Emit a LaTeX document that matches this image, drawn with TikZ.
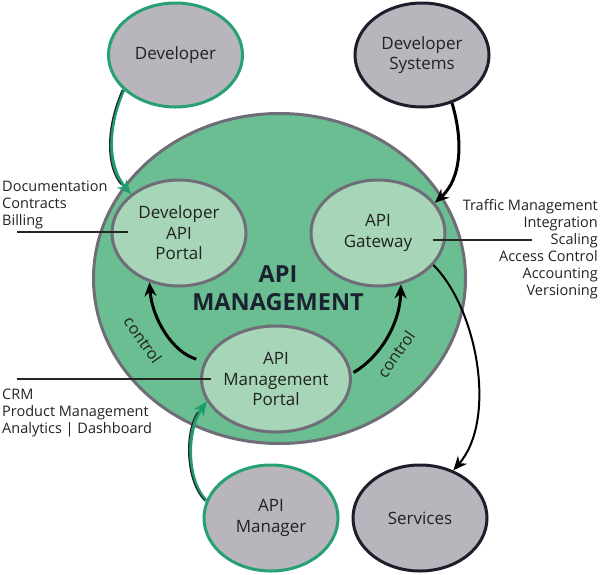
\documentclass[tikz,border=0pt]{standalone}
\usepackage{fontspec}
\setmainfont{Open Sans}
\usetikzlibrary{shapes.geometric,arrows.meta}
\definecolor{bigfill}{HTML}{6ABE92}
\definecolor{innerfill}{HTML}{A6D5B8}
\definecolor{rimgray}{HTML}{6F6E78}
\definecolor{nodegray}{HTML}{B8B5BD}
\definecolor{rimgreen}{HTML}{27A072}
\definecolor{rimnavy}{HTML}{1E1D2B}
\definecolor{txt}{HTML}{222222}
\definecolor{titletxt}{HTML}{1B2331}
\definecolor{arrowgreen}{HTML}{1F9D6C}
\begin{document}
\begin{tikzpicture}[x=1pt,y=-1pt,
  ell/.style={ellipse, inner sep=0pt, text=txt, align=center, font=\fontsize{17}{20.5}\selectfont},
  innerell/.style={ell, fill=innerfill, draw=rimgray, line width=3pt, minimum width=134pt, minimum height=106pt},
  greenell/.style={ell, fill=nodegray, draw=rimgreen, line width=3pt, minimum width=134pt, minimum height=104pt},
  navyell/.style={ell, fill=nodegray, draw=rimnavy, line width=3pt, minimum width=134pt, minimum height=104pt},
  lbl/.style={font=\fontsize{14.5}{17}\selectfont, text=txt, inner sep=0pt},
  ctl/.style={font=\fontsize{16}{18}\selectfont, text=txt, inner sep=0pt},
  blackarrow/.style={-{Stealth[length=14pt,width=12pt]}, black},
  greenarrow/.style={-{Stealth[length=14pt,width=12pt]}, arrowgreen, line width=3.2pt},
  darkedge/.style={black!85, line width=1.2pt, shorten >=13pt},
  leader/.style={black!85, line width=1.2pt}
]
\useasboundingbox (0,0) rectangle (600,574);

% main ellipse
\node[ellipse, inner sep=0pt, minimum width=372pt, minimum height=330pt, fill=bigfill, draw=rimgray, line width=3pt] (big) at (279.5,278.5) {};
\node[font=\fontsize{23.5}{28}\selectfont\bfseries, text=titletxt, align=center, inner sep=0pt] (title) at (278,288) {API\\MANAGEMENT};

% inner ellipses
\node[innerell] (dap) at (179,233) {Developer\\API\\Portal};
\node[innerell] (gw) at (378,233) {API\\Gateway};
\node[innerell, minimum width=132pt] (amp) at (276,379) {API\\Management\\Portal};

% outer ellipses
\node[greenell] (dev) at (175.5,55) {Developer};
\node[navyell] (ds) at (422,55) {Developer\\Systems};
\node[greenell, minimum height=106pt] (am) at (271,518) {API\\Manager};
\node[navyell, minimum height=106pt] (sv) at (420,518) {Services};

% green arrows
\draw[greenarrow] (dev.214) .. controls (106,130) and (108,168) .. (dap.141);
\draw[darkedge] ([xshift=-1.4pt]dev.214) .. controls (104.6,130) and (106.6,168) .. ([xshift=-1.4pt]dap.141);
\draw[greenarrow] (am.165) .. controls (186,480) and (186,430) .. (amp.198);
\draw[darkedge] ([xshift=-1.4pt]am.165) .. controls (184.6,480) and (184.6,430) .. ([xshift=-1.4pt]amp.198);

% black arrows
\draw[blackarrow, line width=3pt] (ds.302) .. controls (463,140) and (462,178) .. (gw.28);
\draw[blackarrow, line width=2pt] (gw.330) .. controls (478,310) and (497,420) .. (sv.55);
\draw[blackarrow, line width=3pt] ([shift={(-8pt,2pt)}]amp.166) .. controls (172,352) and (152,318) .. (dap.239);
\draw[blackarrow, line width=3pt] ([shift={(3pt,-4pt)}]amp.8) .. controls (380,357) and (400,324) .. (gw.294);

% control labels
\node[ctl, rotate=-55] (c1) at (143,340) {control};
\node[ctl, rotate=55] (c2) at (396,354) {control};

% leader lines
\coordinate (lp1) at (17,232);
\coordinate (lp2) at (532,240);
\coordinate (lp3) at (17,379);
\draw[leader] (lp1) -- ([xshift=17pt]dap.west |- lp1);
\draw[leader] ([xshift=-14pt]gw.east |- lp2) -- (lp2);
\draw[leader] (lp3) -- ([xshift=11pt]amp.west |- lp3);

% labels
\node[lbl, align=left, anchor=north west] (l1) at (2,181) {Documentation\\Contracts\\Billing};
\node[lbl, align=right, anchor=north east] (l2) at (598,199) {Traffic Management\\Integration\\Scaling\\Access Control\\Accounting\\Versioning};
\node[lbl, align=left, anchor=north west] (l3) at (2,389) {CRM\\Product Management\\Analytics | Dashboard};
\end{tikzpicture}
\end{document}
